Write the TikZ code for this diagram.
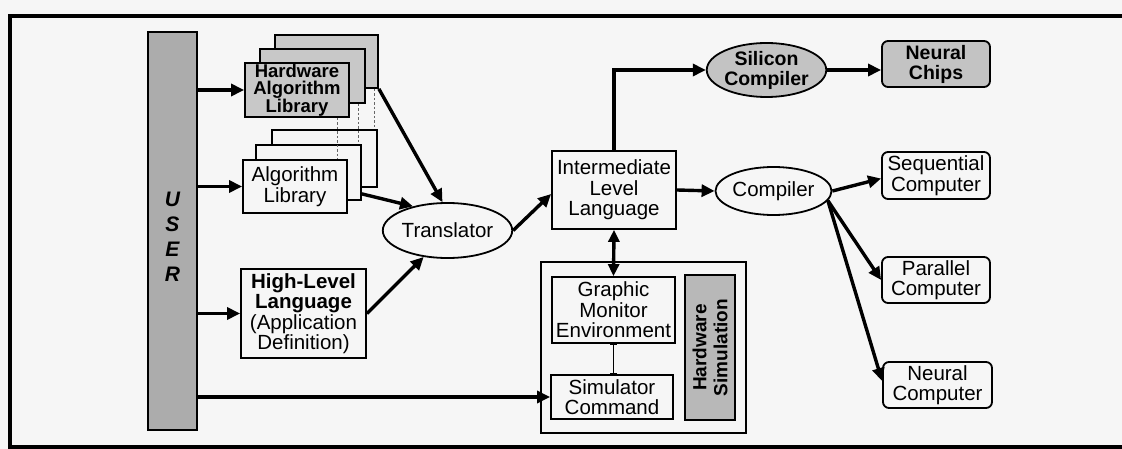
\documentclass[tikz,border=0pt]{standalone}
\usepackage{fontspec}
\setmainfont{Liberation Sans}
\usetikzlibrary{shapes.geometric,arrows.meta}
\definecolor{paper}{RGB}{246,246,246}
\definecolor{shadeA}{RGB}{172,172,172}
\definecolor{shadeB}{RGB}{200,200,200}
\definecolor{shadeC}{RGB}{195,195,195}
\newcommand\txt{\fontsize{20.5}{20.5}\selectfont}
\tikzset{
  panel/.style={draw, line width=1.8pt, fill=paper, inner sep=0pt, align=center, font=\txt},
  hwpanel/.style={panel, fill=shadeB, font=\fontsize{18.5}{17.5}\selectfont\bfseries},
  oval/.style={panel, ellipse},
  target/.style={panel, rounded corners=6pt},
  flow/.style={line width=3.4pt, -{Triangle[length=13pt,width=12pt]}},
  twoway/.style={line width=3.4pt, {Triangle[length=12pt,width=11pt]}-{Triangle[length=12pt,width=11pt]}},
  link/.style={line width=1.4pt, {Bar[width=7pt]}-{Bar[width=7pt]}},
  guide/.style={line width=1pt, gray!80!black, dash pattern=on 2.5pt off 2pt},
}
\begin{document}
\begin{tikzpicture}[x=1pt,y=-1pt]
\useasboundingbox (0,0) rectangle (1122,449);
\fill[paper] (0,0) rectangle (1122,449);
% outer frame (open on the right)
\draw[line width=3.5pt] (1124,16) -- (10,16) -- (10,447) -- (1124,447);

% user column
\node[panel, fill=shadeA, line width=2.5pt, minimum width=49pt, minimum height=398pt] (user) at (172.5,231) {};
\node[font=\fontsize{21}{25}\selectfont\bfseries\itshape, align=center] (userlbl) at (172.5,237) {U\\S\\E\\R};

% hardware algorithm library stack
\node[hwpanel, minimum width=103pt, minimum height=53pt] (hw3) at (326.5,61.5) {};
\node[hwpanel, minimum width=105pt, minimum height=54pt] (hw2) at (312.5,76) {};
\node[hwpanel, minimum width=104pt, minimum height=54pt] (hw1) at (297,90) {Hardware\\Algorithm\\Library};

% algorithm library stack
\node[panel, minimum width=105pt, minimum height=57pt] (al3) at (324.5,158.5) {};
\node[panel, minimum width=105pt, minimum height=55pt] (al2) at (308.5,172.5) {};
\node[panel, minimum width=104pt, minimum height=53pt] (al1) at (295,186.5) {Algorithm\\Library};

% dotted guides between the stacks
\draw[guide] ([xshift=-12pt]hw1.south east) -- ([xshift=-12pt]hw1.south east |- al1.north);
\draw[guide] ([xshift=-7pt]hw2.south east) -- ([xshift=-7pt]hw2.south east |- al2.north);
\draw[guide] ([xshift=-4pt]hw3.south east) -- ([xshift=-4pt]hw3.south east |- al3.north);

% high-level language
\node[panel, minimum width=125pt, minimum height=89pt] (hll) at (303.5,313.5)
  {\textbf{High-Level}\\\textbf{Language}\\(Application\\Definition)};

% translator and intermediate language
\node[oval, minimum width=111pt, minimum height=55pt] (tr) at (447.5,230.5) {Translator};
\node[panel, minimum width=124pt, minimum height=78pt] (ill) at (614,190) {Intermediate\\Level\\Language};

% silicon path
\node[oval, fill=shadeC, minimum width=98pt, minimum height=50pt, font=\fontsize{19.5}{20}\selectfont\bfseries] (sil) at (766.5,70) {Silicon\\Compiler};
\node[target, fill=shadeC, minimum width=108pt, minimum height=46pt, font=\fontsize{19.5}{20}\selectfont\bfseries] (chips) at (936,64) {Neural\\Chips};

% compiler path
\node[oval, minimum width=97pt, minimum height=48pt] (comp) at (773.5,191) {Compiler};
\node[target, minimum width=108pt, minimum height=47pt] (seq) at (936,175.5) {Sequential\\Computer};
\node[target, minimum width=108pt, minimum height=46pt] (par) at (936,280) {Parallel\\Computer};
\node[target, minimum width=109pt, minimum height=46pt] (ncomp) at (937.5,385) {Neural\\Computer};

% hardware simulation group
\node[panel, minimum width=205pt, minimum height=171pt] (hsim) at (643.5,347.5) {};
\node[panel, minimum width=123pt, minimum height=66pt] (gme) at (613.5,310) {Graphic\\Monitor\\Environment};
\node[panel, minimum width=122pt, minimum height=44pt] (sc) at (612,397) {Simulator\\Command};
\node[panel, fill=shadeA!85, minimum width=50pt, minimum height=145pt, line width=1.3pt] (hsbox) at (710,347.5) {};
\node[rotate=90, font=\fontsize{19}{21}\selectfont\bfseries, align=center] (hslbl) at (hsbox.center) {Hardware\\Simulation};

% connectors
\draw[flow] (user.east |- hw1.west) -- (hw1.west);
\draw[flow] (user.east |- al1.west) -- (al1.west);
\draw[flow] (user.east |- hll.west) -- (hll.west);
\draw[flow] (user.east |- sc.west) -- (sc.west);

\draw[flow] (hw3.south east) -- (tr.100);
\draw[flow] ([yshift=7pt]al2.south east) -- (tr.145);
\draw[flow] (hll.east) -- (tr.228);
\draw[flow] (tr.east) -- ([yshift=-4pt]ill.west);

\draw[flow] (ill.north) |- (sil.west);
\draw[flow] (sil.east) -- (sil.east -| chips.west);
\draw[flow] (ill.east) -- (comp.west);
\draw[flow] (comp.east) -- ([yshift=-3pt]seq.west);
\draw[flow] (comp.-10) -- (par.west);
\draw[flow] (comp.-10) -- ([yshift=4pt]ncomp.west);

\draw[twoway] (ill.south) -- (gme.north);
\draw[link] (gme.south) -- (gme.south |- sc.north);
\end{tikzpicture}
\end{document}
